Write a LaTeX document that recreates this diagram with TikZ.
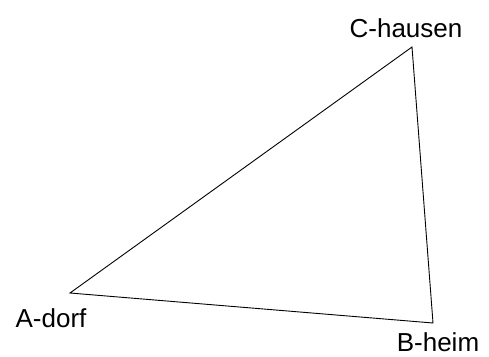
\documentclass[tikz,border=0pt]{standalone}
\usepackage{fontspec}
\setmainfont{Liberation Sans}
\usepackage{tikz}
\usetikzlibrary{positioning}

\begin{document}
\begin{tikzpicture}[x=1pt, y=-1pt,
    place/.style={inner sep=0pt, anchor=base, font=\fontsize{26}{30}\selectfont},
    side/.style={line width=0.9pt, line join=miter}]
  \useasboundingbox (0,0) rectangle (489,356);
  % Ecken des Dreiecks
  \coordinate (adorf) at (70,293);
  \coordinate (bheim) at (433,323);
  \coordinate (chausen) at (412,47);
  \draw[side] (adorf) -- (bheim) -- (chausen) -- cycle;
  % Ortsnamen
  \node[place] (labA) at (51,327) {A-dorf};
  \node[place] (labB) at (438,351) {B-heim};
  \node[place] (labC) at (406,37) {C-hausen};
\end{tikzpicture}
\end{document}
